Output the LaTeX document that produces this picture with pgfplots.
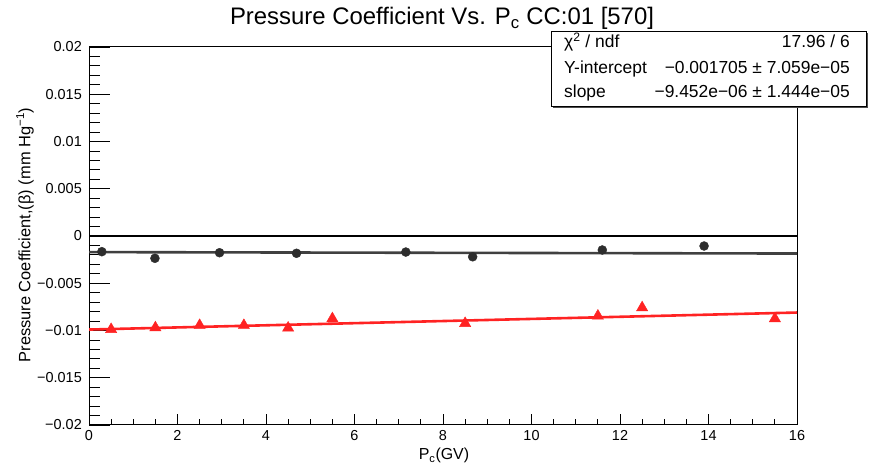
\documentclass[border=0pt]{standalone}
\usepackage{fontspec}
\setmainfont{Liberation Sans}
\usepackage{pgfplots}
\pgfplotsset{compat=1.18}
\definecolor{rootred}{RGB}{255,35,35}
\definecolor{dotgray}{RGB}{45,45,45}
\begin{document}
\begin{tikzpicture}[x=1bp,y=1bp]
\path[use as bounding box] (0,0) rectangle (872,468);
% main axis: data, frame and y ticks
\begin{axis}[
  scale only axis, width=708bp, height=378bp,
  at={(89bp,43bp)}, anchor=south west,
  xmin=0, xmax=16, ymin=-0.02, ymax=0.02,
  scaled y ticks=false,
  xtick=\empty,
  ytick={-0.02,-0.015,-0.01,-0.005,0,0.005,0.01,0.015,0.02},
  yticklabels={−0.02,−0.015,−0.01,−0.005,0,0.005,0.01,0.015,0.02},
  minor y tick num=4,
  ytick pos=left, tick align=inside,
  major tick length=21bp, minor tick length=10.5bp,
  axis line style={line width=1bp},
  every tick/.style={black, line width=0.8bp},
  yticklabel style={font=\fontsize{14.5}{16}\selectfont, inner sep=0pt, xshift=-7bp},
]
\addplot[black, line width=1.8bp] coordinates {(0,0) (16,0)};
\addplot[black!75, line width=2.6bp] coordinates {(0,-0.001705) (16,-0.001856)};
\addplot[rootred, line width=2.6bp] coordinates {(0,-0.0099) (16,-0.0081)};
\addplot[only marks, mark=*, mark size=4.5bp, dotgray] coordinates {
  (0.29,-0.00166) (1.49,-0.00236) (2.95,-0.00177) (4.69,-0.00183)
  (7.16,-0.0017) (8.67,-0.0022) (11.6,-0.00148) (13.9,-0.00106)};
\addplot[only marks, mark=triangle*, mark size=6.5bp, rootred] coordinates {
  (0.5,-0.00988) (1.5,-0.0097) (2.5,-0.00945) (3.5,-0.00945) (4.5,-0.00973)
  (5.5,-0.00874) (8.5,-0.00924) (11.5,-0.00846) (12.5,-0.00758) (15.5,-0.00874)};
\end{axis}
% second axis: x ticks only (shorter ticks)
\begin{axis}[
  scale only axis, width=708bp, height=378bp,
  at={(89bp,43bp)}, anchor=south west,
  xmin=0, xmax=16, ymin=-0.02, ymax=0.02,
  ytick=\empty, xtick={0,2,...,16},
  xticklabels={0,2,4,6,8,10,12,14,16},
  minor x tick num=3,
  xtick pos=bottom, tick align=inside,
  major tick length=11bp, minor tick length=5.5bp,
  axis line style={draw=none},
  every tick/.style={black, line width=0.8bp},
  xticklabel style={font=\fontsize{14.5}{16}\selectfont, inner sep=0pt, yshift=-5bp},
]
\end{axis}
% title and axis labels
\node[anchor=base, font=\fontsize{24}{28}\selectfont] at (442,443)
  {Pressure Coefficient Vs. P\textsubscript{c} CC:01 [570]};
\node[anchor=base, font=\fontsize{16}{19}\selectfont] at (444,8) {P\textsubscript{c}(GV)};
\node[rotate=90, font=\fontsize{16.5}{19}\selectfont] at (25,233)
  {Pressure Coefficient,(β) (mm Hg\textsuperscript{−1})};
% fit statistics box
\fill[black!70] (552.5,359.5) rectangle (867.5,434.5);
\draw[fill=white, line width=1bp] (551,361) rectangle (866,436);
\begin{scope}[every node/.style={font=\fontsize{17.5}{20}\selectfont, inner sep=0pt}]
\node[anchor=base west] at (564,420) {χ\textsuperscript{2} / ndf};
\node[anchor=base east] at (850,420) {17.96 / 6};
\node[anchor=base west] at (564,394) {Y-intercept};
\node[anchor=base east] at (850,394) {−0.001705 ± 7.059e−05};
\node[anchor=base west] at (564,370) {slope};
\node[anchor=base east] at (850,370) {−9.452e−06 ± 1.444e−05};
\end{scope}
\end{tikzpicture}
\end{document}
